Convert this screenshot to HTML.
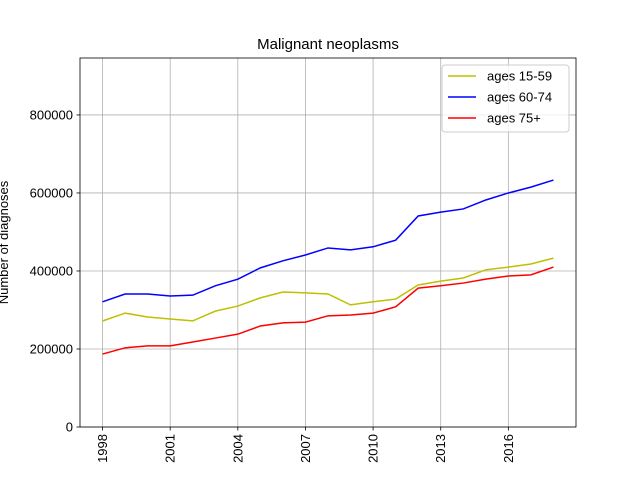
<!DOCTYPE html>
<html><head><meta charset="utf-8"><style>
body{margin:0;background:#fff;}
svg text{font-family:"Liberation Sans","DejaVu Sans",sans-serif;}
</style></head><body>
<svg id="chart" width="640" height="480" xmlns="http://www.w3.org/2000/svg"></svg>
<script>
const years=[1998,1999,2000,2001,2002,2003,2004,2005,2006,2007,2008,2009,2010,2011,2012,2013,2014,2015,2016,2017,2018];
const ages1559=[271800,292000,282000,277000,272000,297000,310000,331000,346000,344000,341000,313000,321000,328000,364000,374000,382000,403000,410000,418000,433000];
const ages6074=[321000,341000,341000,336000,338000,362000,379000,408000,426000,441000,459000,454000,462000,479000,541000,551000,559000,582000,600000,615000,633000];
const ages75=[187000,203000,208000,208000,218000,228000,238000,259000,267000,269000,285000,287000,292000,308000,356000,362000,369000,379000,387000,390000,410000];
const xTicks=[1998,2001,2004,2007,2010,2013,2016];
const yTicks=[0,200000,400000,600000,800000];
const seriesNames=["ages 15-59","ages 60-74","ages 75+"];
const seriesColors=["#bfbf00","#0000ff","#ff0000"];

const L=80,R=576,T=58,B=427;
const xMin=1997,xMax=2019,yMax=946000;
const X=v=>L+(v-xMin)/(xMax-xMin)*(R-L);
const Y=v=>B-v/yMax*(B-T);
const svg=document.getElementById('chart');
const NS="http://www.w3.org/2000/svg";
function mk(tag,attrs,parent){const e=document.createElementNS(NS,tag);for(const k in attrs)e.setAttribute(k,attrs[k]);(parent||svg).appendChild(e);return e;}

const grid=mk('g',{});


xTicks.forEach(t=>{mk('line',{x1:X(t),x2:X(t),y1:T,y2:B,stroke:'#b0b0b0','stroke-width':0.8},grid);});
yTicks.forEach(t=>{mk('line',{x1:L,x2:R,y1:Y(t),y2:Y(t),stroke:'#b0b0b0','stroke-width':0.8},grid);});

const xa=mk('g',{});


xTicks.forEach(t=>{
  mk('line',{x1:X(t),x2:X(t),y1:B,y2:B+3.5,stroke:'#000','stroke-width':0.8},xa);
  const tx=mk('text',{x:0,y:0,'font-size':13,'text-anchor':'end','dominant-baseline':'central',transform:`translate(${X(t)},${B+7}) rotate(-90)`},xa);
  tx.textContent=t;
  
  
});
const ya=mk('g',{});


yTicks.forEach(t=>{
  mk('line',{x1:L-3.5,x2:L,y1:Y(t),y2:Y(t),stroke:'#000','stroke-width':0.8},ya);
  const tx=mk('text',{x:L-7,y:Y(t)+4.5,'font-size':13,'text-anchor':'end'},ya);
  tx.textContent=t;
  
  
});
const yt=mk('text',{x:0,y:0,'font-size':13,'text-anchor':'middle',transform:`translate(8,${(T+B)/2}) rotate(-90)`});
yt.textContent='Number of diagnoses';


const title=mk('text',{x:(L+R)/2,y:49,'font-size':15,'text-anchor':'middle'});
title.textContent='Malignant neoplasms';



[ages1559,ages6074,ages75].forEach((s,i)=>{
  const p=mk('polyline',{points:s.map((v,j)=>X(years[j])+','+Y(v)).join(' '),fill:'none',stroke:seriesColors[i],'stroke-width':1.5});
  
  
});
const frame=mk('rect',{x:L,y:T,width:R-L,height:B-T,fill:'none',stroke:'#000','stroke-width':0.8});



const lg=mk('g',{});


mk('rect',{x:442,y:65,width:127,height:67,rx:3,fill:'#fff','fill-opacity':0.8,stroke:'#ccc'},lg);
seriesNames.forEach((n,i)=>{
  const y=76+i*21;
  mk('line',{x1:448,x2:476,y1:y,y2:y,stroke:seriesColors[i],'stroke-width':1.5},lg);
  const tx=mk('text',{x:487,y:y+4.5,'font-size':13},lg);
  tx.textContent=n;
  
  
});
</script>
</body></html>
